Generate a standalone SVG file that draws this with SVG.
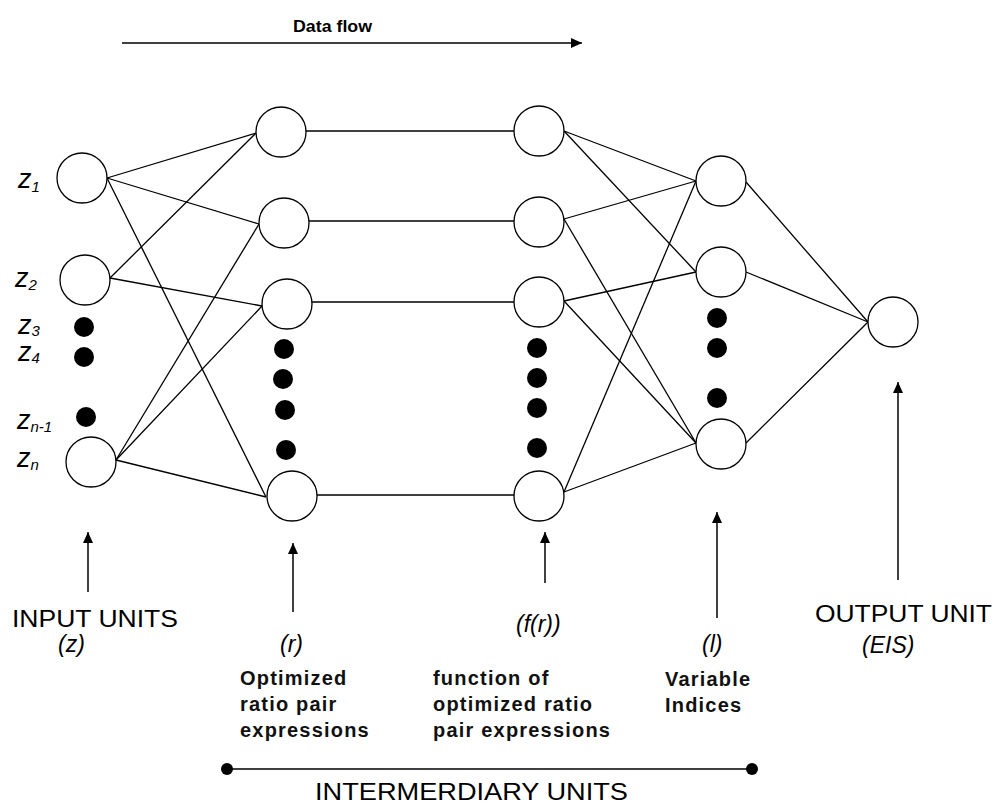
<svg xmlns="http://www.w3.org/2000/svg" width="999" height="804" viewBox="0 0 999 804">
<style>
.node{fill:#fff;stroke:#000;stroke-width:1.3}
.dot{fill:#000}
.edge{stroke:#000;stroke-width:1.3;fill:none}
.arr{stroke:#000;stroke-width:1.5;fill:none;marker-end:url(#ah)}
.it{font-family:"Liberation Sans",Arial,sans-serif;font-style:italic;fill:#000}
.bd{font-family:"Liberation Sans",Arial,sans-serif;font-weight:bold;font-size:20px;letter-spacing:1.2px;fill:#111}
.cap{font-family:"Liberation Sans",Arial,sans-serif;font-size:24px;fill:#000}
</style>
<defs>
<marker id="ah" markerUnits="userSpaceOnUse" markerWidth="10" markerHeight="10" refX="11" refY="5" orient="auto">
<path d="M0,0 L11,5 L0,10 Z" fill="#000"/>
</marker>
</defs>
<rect width="999" height="804" fill="#fff"/>

<g id="dataflow">
<line class="arr" x1="122" y1="43" x2="582" y2="43"/>
<text x="293" y="32" font-family="Liberation Sans,Arial,sans-serif" font-weight="bold" font-size="17" textLength="79" lengthAdjust="spacingAndGlyphs">Data flow</text>
</g>

<g id="connectors">
<line class="edge" x1="107" y1="178" x2="256" y2="133"/>
<line class="edge" x1="107" y1="178" x2="259" y2="224"/>
<line class="edge" x1="107" y1="178" x2="266" y2="497"/>
<line class="edge" x1="110" y1="278" x2="256" y2="133"/>
<line class="edge" x1="110" y1="278" x2="262" y2="306"/>
<line class="edge" x1="116" y1="460" x2="259" y2="224"/>
<line class="edge" x1="116" y1="460" x2="262" y2="306"/>
<line class="edge" x1="116" y1="460" x2="266" y2="497"/>
<line class="edge" x1="306" y1="131" x2="514" y2="131"/>
<line class="edge" x1="309" y1="221" x2="514" y2="221"/>
<line class="edge" x1="312" y1="302" x2="514" y2="302"/>
<line class="edge" x1="317" y1="495" x2="514" y2="495"/>
<line class="edge" x1="564" y1="131" x2="696" y2="181"/>
<line class="edge" x1="564" y1="131" x2="696" y2="272"/>
<line class="edge" x1="564" y1="219" x2="696" y2="181"/>
<line class="edge" x1="564" y1="219" x2="696" y2="443"/>
<line class="edge" x1="564" y1="301" x2="696" y2="272"/>
<line class="edge" x1="564" y1="301" x2="696" y2="443"/>
<line class="edge" x1="564" y1="492" x2="696" y2="181"/>
<line class="edge" x1="564" y1="492" x2="696" y2="443"/>
<line class="edge" x1="746" y1="182" x2="868" y2="322"/>
<line class="edge" x1="746" y1="272" x2="868" y2="322"/>
<line class="edge" x1="746" y1="443" x2="868" y2="322"/>
<line class="arr" x1="88" y1="592" x2="88" y2="532"/>
<line class="arr" x1="293" y1="612" x2="293" y2="543"/>
<line class="arr" x1="545" y1="583" x2="545" y2="532"/>
<line class="arr" x1="717" y1="618" x2="717" y2="512"/>
<line class="arr" x1="898" y1="580" x2="898" y2="382"/>
</g>

<g id="input-layer">
<circle class="node" cx="82" cy="178" r="25"/>
<circle class="node" cx="85" cy="280" r="25"/>
<circle class="dot" cx="84" cy="327" r="10"/>
<circle class="dot" cx="84" cy="357" r="10"/>
<circle class="dot" cx="86" cy="417" r="10"/>
<circle class="node" cx="91" cy="462" r="25"/>
<text class="it" x="18" y="188" font-size="27">z<tspan font-size="15" dy="4">1</tspan></text>
<text class="it" x="15" y="287" font-size="27">z<tspan font-size="15" dy="3">2</tspan></text>
<text class="it" x="18" y="334" font-size="27">z<tspan font-size="15" dy="2">3</tspan></text>
<text class="it" x="18" y="361" font-size="27">z<tspan font-size="15" dy="2">4</tspan></text>
<text class="it" x="17" y="429" font-size="27">z<tspan font-size="15" dy="3">n-1</tspan></text>
<text class="it" x="17" y="467" font-size="27">z<tspan font-size="15" dy="3">n</tspan></text>
</g>

<g id="r-layer">
<circle class="node" cx="281" cy="132" r="25"/>
<circle class="node" cx="284" cy="223" r="25"/>
<circle class="node" cx="287" cy="304" r="25"/>
<circle class="dot" cx="284" cy="349" r="10"/>
<circle class="dot" cx="283" cy="379" r="10"/>
<circle class="dot" cx="285" cy="410" r="10"/>
<circle class="dot" cx="286" cy="450" r="10"/>
<circle class="node" cx="292" cy="496" r="25"/>
</g>

<g id="fr-layer">
<circle class="node" cx="539" cy="131" r="25"/>
<circle class="node" cx="539" cy="222" r="25"/>
<circle class="node" cx="539" cy="302" r="25"/>
<circle class="dot" cx="537" cy="348" r="10"/>
<circle class="dot" cx="537" cy="378" r="10"/>
<circle class="dot" cx="537" cy="408" r="10"/>
<circle class="dot" cx="537" cy="448" r="10"/>
<circle class="node" cx="539" cy="496" r="25"/>
</g>

<g id="l-layer">
<circle class="node" cx="721" cy="181" r="25"/>
<circle class="node" cx="721" cy="272" r="25"/>
<circle class="dot" cx="717" cy="318" r="10"/>
<circle class="dot" cx="717" cy="348" r="10"/>
<circle class="dot" cx="717" cy="398" r="10"/>
<circle class="node" cx="721" cy="444" r="25"/>
</g>

<g id="output-unit">
<circle class="node" cx="893" cy="322" r="25"/>
</g>

<g id="labels">
<text class="cap" x="12" y="627" font-size="24" textLength="166" lengthAdjust="spacingAndGlyphs">INPUT UNITS</text>
<text class="it" x="58" y="652" font-size="23">(z)</text>
<text class="it" x="280" y="652" font-size="23">(r)</text>
<text class="bd" x="240" y="685">Optimized</text>
<text class="bd" x="240" y="711">ratio pair</text>
<text class="bd" x="240" y="737">expressions</text>
<text class="it" x="516" y="632" font-size="23">(f(r))</text>
<text class="bd" x="433" y="685">function of</text>
<text class="bd" x="433" y="711">optimized ratio</text>
<text class="bd" x="433" y="737">pair expressions</text>
<text class="it" x="702" y="652" font-size="23">(l)</text>
<text class="bd" x="665" y="686">Variable</text>
<text class="bd" x="665" y="712">Indices</text>
<text class="cap" x="815" y="622" textLength="177" lengthAdjust="spacingAndGlyphs">OUTPUT UNIT</text>
<text class="it" x="862" y="653" font-size="23">(EIS)</text>
</g>

<g id="intermediary">
<line class="edge" x1="227" y1="769" x2="752" y2="769"/>
<circle class="dot" cx="227" cy="769" r="6"/>
<circle class="dot" cx="752" cy="769" r="6"/>
<text class="cap" x="315" y="800" textLength="313" lengthAdjust="spacingAndGlyphs">INTERMERDIARY UNITS</text>
</g>
</svg>
